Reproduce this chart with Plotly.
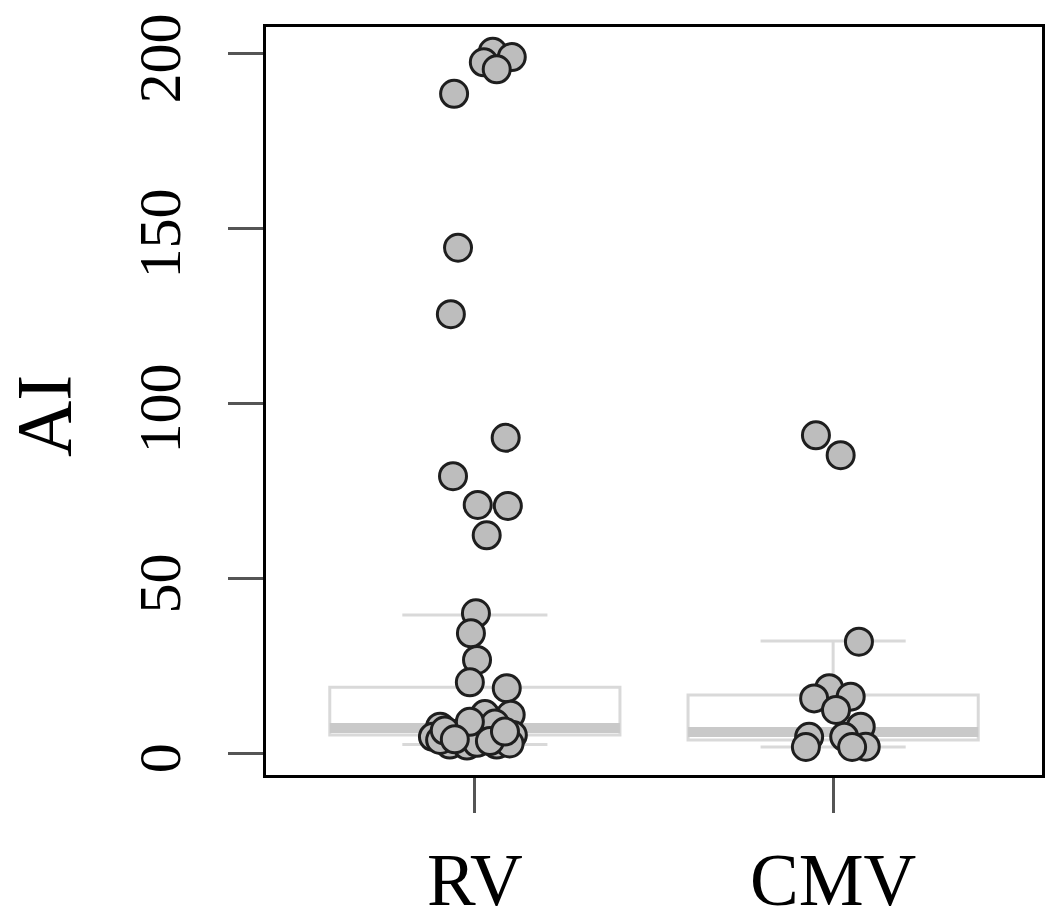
import plotly.graph_objects as go

# ---- data ----
categories = ["RV", "CMV"]
cat_pos = [1, 2]

# box statistics (as drawn)
box_q1 = [5.2, 3.8]
box_median = [7.2, 6.1]
box_q3 = [18.9, 16.7]
box_lower = [2.5, 1.8]
box_upper = [39.5, 32.1]

# jittered points: values and horizontal jitter offsets (category units)
rv_values = [200.5, 197.5, 199.0, 195.5, 188.5, 144.5, 125.5, 90.2, 79.2, 71.0,
             70.7, 62.3, 40.0, 34.3, 26.7, 20.3, 18.6, 11.2, 11.0, 5.7,
             7.6, 5.8, 4.7, 5.2, 4.7, 2.5, 2.2, 2.5, 2.8, 3.0,
             3.8, 6.5, 8.5, 3.5, 9.0, 6.2, 4.0]
rv_jitter = [0.050, 0.025, 0.103, 0.061, -0.058, -0.047, -0.067, 0.086, -0.061, 0.008,
             0.092, 0.033, 0.003, -0.011, 0.006, -0.014, 0.089, 0.028, 0.100, -0.042,
             -0.097, 0.031, 0.075, 0.106, -0.117, -0.070, -0.022, 0.061, 0.097, 0.006,
             -0.097, -0.084, 0.056, 0.042, -0.014, 0.084, -0.056]

cmv_values = [90.9, 85.2, 31.9, 18.6, 16.2, 15.7, 12.4, 7.6, 4.7, 4.7, 1.8, 1.9, 1.8]
cmv_jitter = [-0.048, 0.021, 0.072, -0.011, 0.049, -0.053, 0.008, 0.077, -0.067, 0.031,
              -0.076, 0.091, 0.053]

y_ticks = [0, 50, 100, 150, 200]
y_label = "AI"

# ---- styling ----
SERIF = "Liberation Serif, Times New Roman, serif"
BOX_W = 0.81
BOX_LINE = "#d9d9d9"
MEDIAN_COL = "#c9c9c9"
PT_FILL = "#bdbdbd"
PT_EDGE = "#1e1e1e"

fig = go.Figure()

fig.add_trace(go.Box(
    x=cat_pos, q1=box_q1, median=box_median, q3=box_q3,
    lowerfence=box_lower, upperfence=box_upper,
    width=BOX_W, whiskerwidth=0.5, boxpoints=False,
    line=dict(color=BOX_LINE, width=3), fillcolor="rgba(255,255,255,0.6)",
    showlegend=False, hoverinfo="skip",
))

# thick median bars
for pos, med in zip(cat_pos, box_median):
    fig.add_trace(go.Scatter(
        x=[pos - BOX_W / 2, pos + BOX_W / 2], y=[med, med], mode="lines",
        line=dict(color=MEDIAN_COL, width=10), showlegend=False, hoverinfo="skip",
    ))

for pos, vals, jit in [(cat_pos[0], rv_values, rv_jitter), (cat_pos[1], cmv_values, cmv_jitter)]:
    fig.add_trace(go.Scatter(
        x=[pos + j for j in jit], y=vals, mode="markers",
        marker=dict(size=27, color=PT_FILL, line=dict(color=PT_EDGE, width=3)),
        showlegend=False, cliponaxis=False,
    ))

# page body adds an 8px margin, so the figure is sized to the visible area
fig.update_layout(
    width=1037, height=901,
    margin=dict(l=258, r=3, t=19, b=134),
    paper_bgcolor="white", plot_bgcolor="white",
    font=dict(family=SERIF, color="black"),
    annotations=[dict(
        text=y_label, textangle=-90, showarrow=False,
        xref="paper", yref="paper", x=0, y=0.48,
        xanchor="center", yanchor="middle", xshift=-222,
        font=dict(family=SERIF, size=78, color="black"),
    )],
)

fig.update_xaxes(
    range=[0.417, 2.583], tickvals=cat_pos, ticktext=categories,
    showgrid=False, zeroline=False,
    showline=True, mirror=True, linecolor="black", linewidth=3,
    ticks="outside", ticklen=35, tickwidth=3, tickcolor="#555555",
    tickfont=dict(family=SERIF, size=73, color="black"),
    ticklabelstandoff=4, ticklabeloverflow="allow",
    automargin=False,
)
fig.update_yaxes(
    range=[-6.2, 207.6], tickvals=y_ticks, ticktext=[str(v) for v in y_ticks],
    showgrid=False, zeroline=False,
    showline=True, mirror=True, linecolor="black", linewidth=3,
    ticks="outside", ticklen=35, tickwidth=3, tickcolor="#555555",
    tickangle=-90,
    tickfont=dict(family=SERIF, size=60, color="black"),
    ticklabelstandoff=24, ticklabelshift=14, ticklabeloverflow="allow",
    automargin=False,
)

fig.write_html("out.html")
